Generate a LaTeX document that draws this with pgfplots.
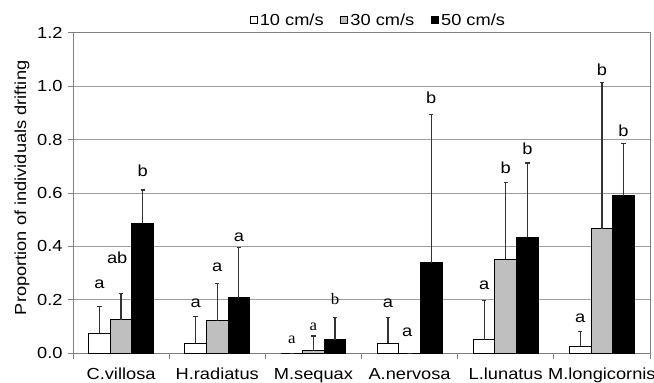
\documentclass[border=0pt]{standalone}
\usepackage{pgfplots}
\usepackage{pgfplotstable}
\pgfplotsset{compat=1.18}
\usepackage{fontspec}
\setmainfont{Liberation Sans}[FakeStretch=1.14]
\newfontfamily\seriff{Liberation Serif}[FakeStretch=1.05]
\definecolor{framegray}{rgb}{0.50,0.50,0.50}
\definecolor{gridgray}{rgb}{0.62,0.62,0.62}
\definecolor{bargray}{rgb}{0.75,0.75,0.75}

% 10 cm/s (white), x at bar centre
\pgfplotstableread{
x y e
-0.225 0.075 0.100
0.775 0.037 0.100
1.775 0.000 0.000
2.775 0.037 0.096
3.775 0.050 0.147
4.775 0.027 0.055
}\tabA
% 30 cm/s (grey)
\pgfplotstableread{
x y e
0 0.125 0.100
1 0.122 0.138
2 0.012 0.053
3 0.000 0.000
4 0.352 0.287
5 0.466 0.549
}\tabB
% 50 cm/s (black)
\pgfplotstableread{
x y e
0.225 0.487 0.124
1.225 0.208 0.189
2.225 0.050 0.085
3.225 0.339 0.556
4.225 0.434 0.278
5.225 0.590 0.196
}\tabC
\pgfplotstableread{
x y lab
-0.225 0.241 a
-0.04 0.337 ab
0.225 0.661 b
0.775 0.172 a
1 0.306 a
1.225 0.418 a
2.775 0.172 a
2.975 0.062 a
3.225 0.936 b
3.775 0.237 a
4 0.674 b
4.225 0.745 b
4.775 0.115 a
5 1.039 b
5.225 0.811 b
}\tabL
\pgfplotstableread{
x y lab
1.775 0.037 a
2 0.085 a
2.225 0.181 b
}\tabS

\pgfplotsset{errstyle/.style={
  error bars/y dir=plus, error bars/y explicit,
  error bars/error bar style={line width=1.2pt, color=black!80},
  error bars/error mark options={rotate=90, mark size=2.2pt, line width=1.2pt, color=black!80},
}}

\begin{document}
\begin{tikzpicture}[font=\fontsize{16}{19}\selectfont]
\begin{axis}[
  at={(0,0)}, anchor=south west,
  scale only axis,
  width=577pt, height=320.6pt,
  xmin=-0.5, xmax=5.5,
  ymin=0, ymax=1.2,
  ytick={0,0.2,...,1.21},
  yticklabel style={/pgf/number format/fixed, /pgf/number format/fixed zerofill, /pgf/number format/precision=1, /pgf/number format/assume math mode=true, xshift=-2pt},
  xtick={0,...,5},
  xticklabels={C.villosa,H.radiatus,M.sequax,A.nervosa,L.lunatus,M.longicornis},
  xticklabel style={anchor=base, yshift=-20.8pt},
  major x tick style={draw=none},
  minor xtick={-0.5,0.5,...,5.6},
  minor tick length=6pt,
  major tick length=5pt,
  tick align=outside,
  xtick pos=bottom, ytick pos=left,
  tick style={color=framegray, line width=0.9pt},
  ymajorgrids,
  grid style={color=gridgray, line width=0.9pt},
  axis line style={color=framegray, line width=0.9pt},
  ylabel={Proportion of individuals drifting},
  every axis y label/.style={at={(axis description cs:-0.0884,0.516)}, rotate=90, anchor=center},
  legend columns=-1,
  legend style={draw=none, fill=none, at={(axis description cs:0.5295,1.0396)}, anchor=center,
    inner sep=0pt, /tikz/every even column/.append style={column sep=14pt},
    nodes={inner sep=2.5pt}},
  legend image code/.code={\draw[#1, line width=0.8pt] (0pt,-3.5pt) rectangle (7pt,3.5pt);},
]
\addplot[ybar, bar width=0.225, bar shift=0, draw=black, line width=0.9pt, fill=white, errstyle]
  table[x=x, y=y, y error=e] {\tabA};
\addlegendentry{10 cm/s}
\addplot[ybar, bar width=0.225, bar shift=0, draw=black, line width=0.9pt, fill=bargray, errstyle]
  table[x=x, y=y, y error=e] {\tabB};
\addlegendentry{30 cm/s}
\addplot[ybar, bar width=0.225, bar shift=0, draw=black, line width=0.9pt, fill=black, errstyle]
  table[x=x, y=y, y error=e] {\tabC};
\addlegendentry{50 cm/s}
\addplot[forget plot, draw=none, mark=none,
  nodes near coords, point meta=explicit symbolic,
  every node near coord/.style={anchor=base, inner sep=0pt, font=\fontsize{16}{19}\selectfont}]
  table[x=x, y=y, meta=lab] {\tabL};
\addplot[forget plot, draw=none, mark=none,
  nodes near coords, point meta=explicit symbolic,
  every node near coord/.style={anchor=base, inner sep=0pt, font=\fontsize{16}{19}\seriff}]
  table[x=x, y=y, meta=lab] {\tabS};
\end{axis}
\pgfresetboundingbox
\path[use as bounding box] (-73pt,-29.7pt) rectangle (581pt,353.3pt);
\end{tikzpicture}
\end{document}
